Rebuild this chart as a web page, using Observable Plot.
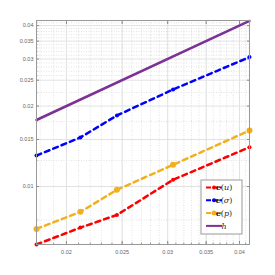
<!DOCTYPE html>
<html><head><meta charset="utf-8">
<script src="https://cdn.jsdelivr.net/npm/d3@7"></script>
<script src="https://cdn.jsdelivr.net/npm/@observablehq/plot@0.6"></script>
<style>body{margin:0;background:#fff}</style>
</head><body><div id="chart"></div>
<script>
const hValues = [0.01774, 0.02115, 0.02448, 0.03065, 0.04163];
const eU     = [0.00607, 0.00702, 0.00783, 0.0106, 0.01403];
const eSigma = [0.01306, 0.01526, 0.01844, 0.02307, 0.0305];
const eP     = [0.00694, 0.00804, 0.00972, 0.01206, 0.0162];
const hLine  = [0.01774, 0.04163];
const xTicks = [0.02, 0.025, 0.03, 0.035, 0.04];
const yTicks = [0.01, 0.015, 0.02, 0.025, 0.03, 0.035, 0.04];
const xMinor = d3.range(18, 42).map(d => d / 1000);
const yMinor = [0.0075, 0.0125, 0.0175, 0.0225, 0.026, 0.027, 0.028, 0.029, 0.031, 0.032, 0.033, 0.034, 0.036, 0.037, 0.038, 0.039, 0.041];

const series = [
  {name: "e(u)", vals: eU, color: "#ff0000", dash: "5,4"},
  {name: "e(σ)", vals: eSigma, color: "#0000ff", dash: "5,4"},
  {name: "e(p)", vals: eP, color: "#f2b01e", dash: "5,4"}
];
const rows = series.flatMap(s => s.vals.map((v, i) => ({x: hValues[i], y: v, s: s.name})));

const gridColor = "#e2e2e2";
const plot = Plot.plot({
  width: 275, height: 275,
  marginLeft: 36, marginTop: 20, marginRight: 26, marginBottom: 31,
  style: {fontFamily: "Liberation Sans, sans-serif", fontSize: "5.5px", color: "#666"},
  x: {type: "log", domain: [0.01774, 0.04163], label: null},
  y: {type: "log", domain: [0.00607, 0.0418], label: null},
  marks: [
    Plot.ruleX(xMinor, {stroke: gridColor, strokeDasharray: "1,1.5"}),
    Plot.ruleY(yMinor, {stroke: gridColor, strokeDasharray: "1,1.5"}),
    Plot.ruleX(xTicks, {stroke: gridColor}),
    Plot.ruleY(yTicks, {stroke: gridColor}),
    Plot.axisX({ticks: xTicks, tickSize: 0, tickPadding: 6, tickFormat: d => String(d), label: null}),
    Plot.axisY({ticks: yTicks, tickSize: 0, tickPadding: 3, tickFormat: d => String(d), label: null}),
    Plot.axisX({ticks: xTicks, tickSize: -3, tickFormat: () => "", stroke: "#888", label: null}),
    Plot.axisX({ticks: xTicks, anchor: "top", tickSize: -3, tickFormat: () => "", stroke: "#888", label: null}),
    Plot.axisY({ticks: yTicks, tickSize: -3, tickFormat: () => "", stroke: "#888", label: null}),
    Plot.axisY({ticks: yTicks, anchor: "right", tickSize: -3, tickFormat: () => "", stroke: "#888", label: null}),
    Plot.axisX({ticks: xMinor, tickSize: -1.5, tickFormat: () => "", stroke: "#999", label: null}),
    Plot.axisY({ticks: yMinor, tickSize: -1.5, tickFormat: () => "", stroke: "#999", label: null}),
    Plot.lineY(hLine, {x: hLine, y: hLine, stroke: "#7b3294", strokeWidth: 2.5}),
    ...series.map(s => Plot.line(rows.filter(r => r.s === s.name), {x: "x", y: "y", stroke: s.color, strokeWidth: 2.5, strokeDasharray: s.dash})),
    Plot.dot(rows.filter(r => r.s === "e(u)"), {x: "x", y: "y", r: 2, fill: "#ff0000"}),
    Plot.dot(rows.filter(r => r.s === "e(σ)"), {x: "x", y: "y", r: 2, fill: "#0000ff"}),
    Plot.dot(rows.filter(r => r.s === "e(p)"), {x: "x", y: "y", r: 3, fill: "#f2b01e"}),
    Plot.frame({stroke: "#999", strokeWidth: 1})
  ]
});
document.getElementById("chart").appendChild(plot);

// legend inside the plot
const svg = d3.select(plot);
const lg = svg.append("g").attr("transform", "translate(201,180)");
lg.append("rect").attr("width", 41).attr("height", 54).attr("fill", "#fff").attr("stroke", "#999").attr("stroke-width", 1);
const entries = [
  {label: "e(u)", color: "#ff0000", dash: "5,2", dot: 2},
  {label: "e(σ)", color: "#0000ff", dash: "5,2", dot: 2},
  {label: "e(p)", color: "#f2b01e", dash: "5,2", dot: 2.5},
  {label: "h", color: "#7b3294", dash: null, dot: 0}
];
entries.forEach((e, i) => {
  const y = 7.5 + i * 12.8;
  lg.append("line").attr("x1", 5).attr("x2", 21).attr("y1", y).attr("y2", y)
    .attr("stroke", e.color).attr("stroke-width", 2).attr("stroke-dasharray", e.dash);
  if (e.dot) lg.append("circle").attr("cx", 13).attr("cy", y).attr("r", e.dot).attr("fill", e.color);
  const t = lg.append("text").attr("x", 23).attr("y", y).attr("dy", "0.35em")
    .attr("font-family", "DejaVu Serif, serif").attr("font-size", 8).attr("fill", "#222");
  if (e.label === "h") t.attr("font-style", "italic").text("h");
  else {
    const m = e.label.match(/^e\((.)\)$/);
    t.append("tspan").attr("font-weight", "bold").text("e");
    t.append("tspan").text("(");
    t.append("tspan").attr("font-style", "italic").text(m[1]);
    t.append("tspan").text(")");
  }
});
</script></body></html>
